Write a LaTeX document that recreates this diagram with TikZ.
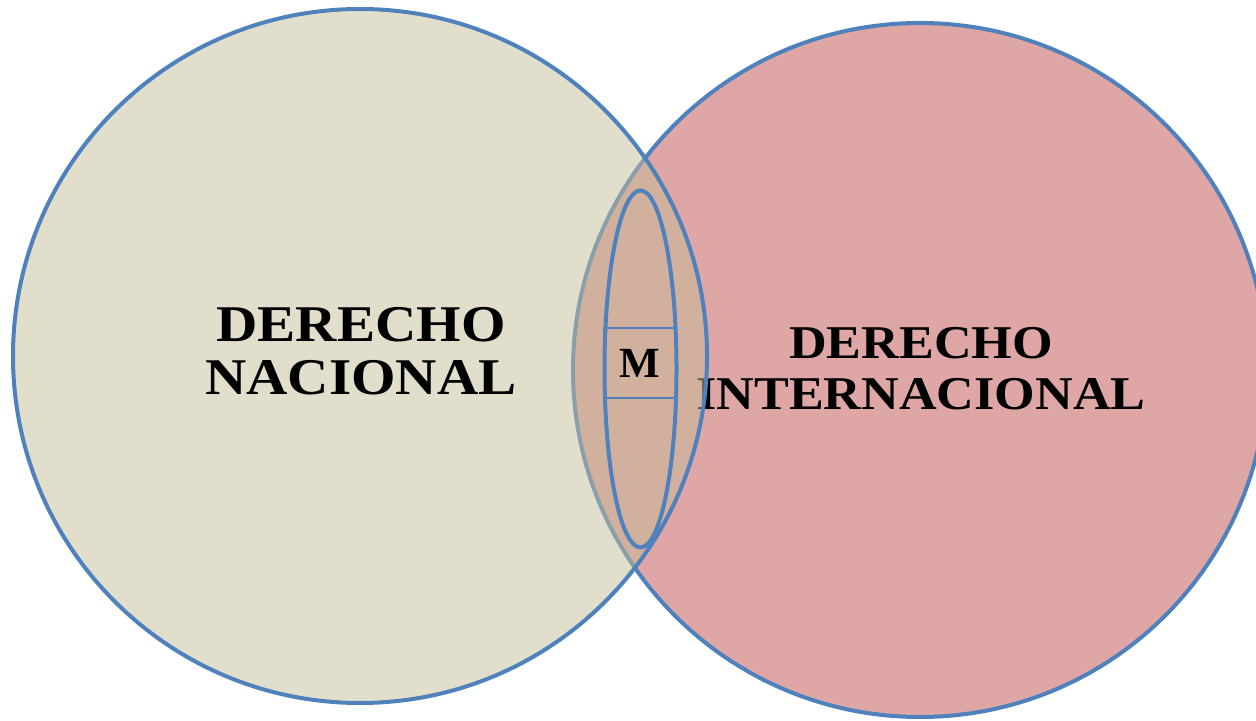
\documentclass[tikz,border=0pt]{standalone}
\usepackage{fontspec}
\usepackage{graphicx}
\setmainfont{Liberation Serif}
\usetikzlibrary{shapes.geometric}

\definecolor{lineblue}{HTML}{4F81BD}
\definecolor{nacfill}{HTML}{C4BD97}
\definecolor{intfill}{HTML}{DFA6A6}
\newcommand{\wide}[1]{\scalebox{1.11}[1]{#1}}

\begin{document}
\begin{tikzpicture}[x = 0.5pt, y = 0.5pt,
    lawset/.style = {circle, draw = lineblue, line width = 2pt, minimum size = 347pt, inner sep = 0pt},
    settext/.style = {align = center, inner sep = 0pt}]
    \useasboundingbox (0,0) rectangle (1256,721);
    \clip (0,0) rectangle (1256,721);
    % derecho internacional
    \node[lawset, fill = intfill] (inter) at (920,351) {};
    \node[settext, font = \fontsize{23.5}{25.5}\selectfont\bfseries] (intertext) at (921,352.5) {\wide{DERECHO}\\\wide{INTERNACIONAL}};
    % derecho nacional
    \node[lawset, fill = nacfill, fill opacity = 0.5] (nac) at (360,365) {};
    \node[settext, font = \fontsize{25.75}{26.5}\selectfont\bfseries] (nactext) at (361,370) {\wide{DERECHO}\\\wide{NACIONAL}};
    % zona comun
    \node[draw = lineblue, line width = 0.75pt, minimum width = 36pt, minimum height = 35pt, inner sep = 0pt, font = \fontsize{21.5}{24}\selectfont\bfseries] (m) at (640,358) {M};
    \node[ellipse, draw = lineblue, line width = 2pt, minimum width = 36pt, minimum height = 178.5pt, inner sep = 0pt] (mid) at (640.5,352) {};
\end{tikzpicture}
\end{document}
